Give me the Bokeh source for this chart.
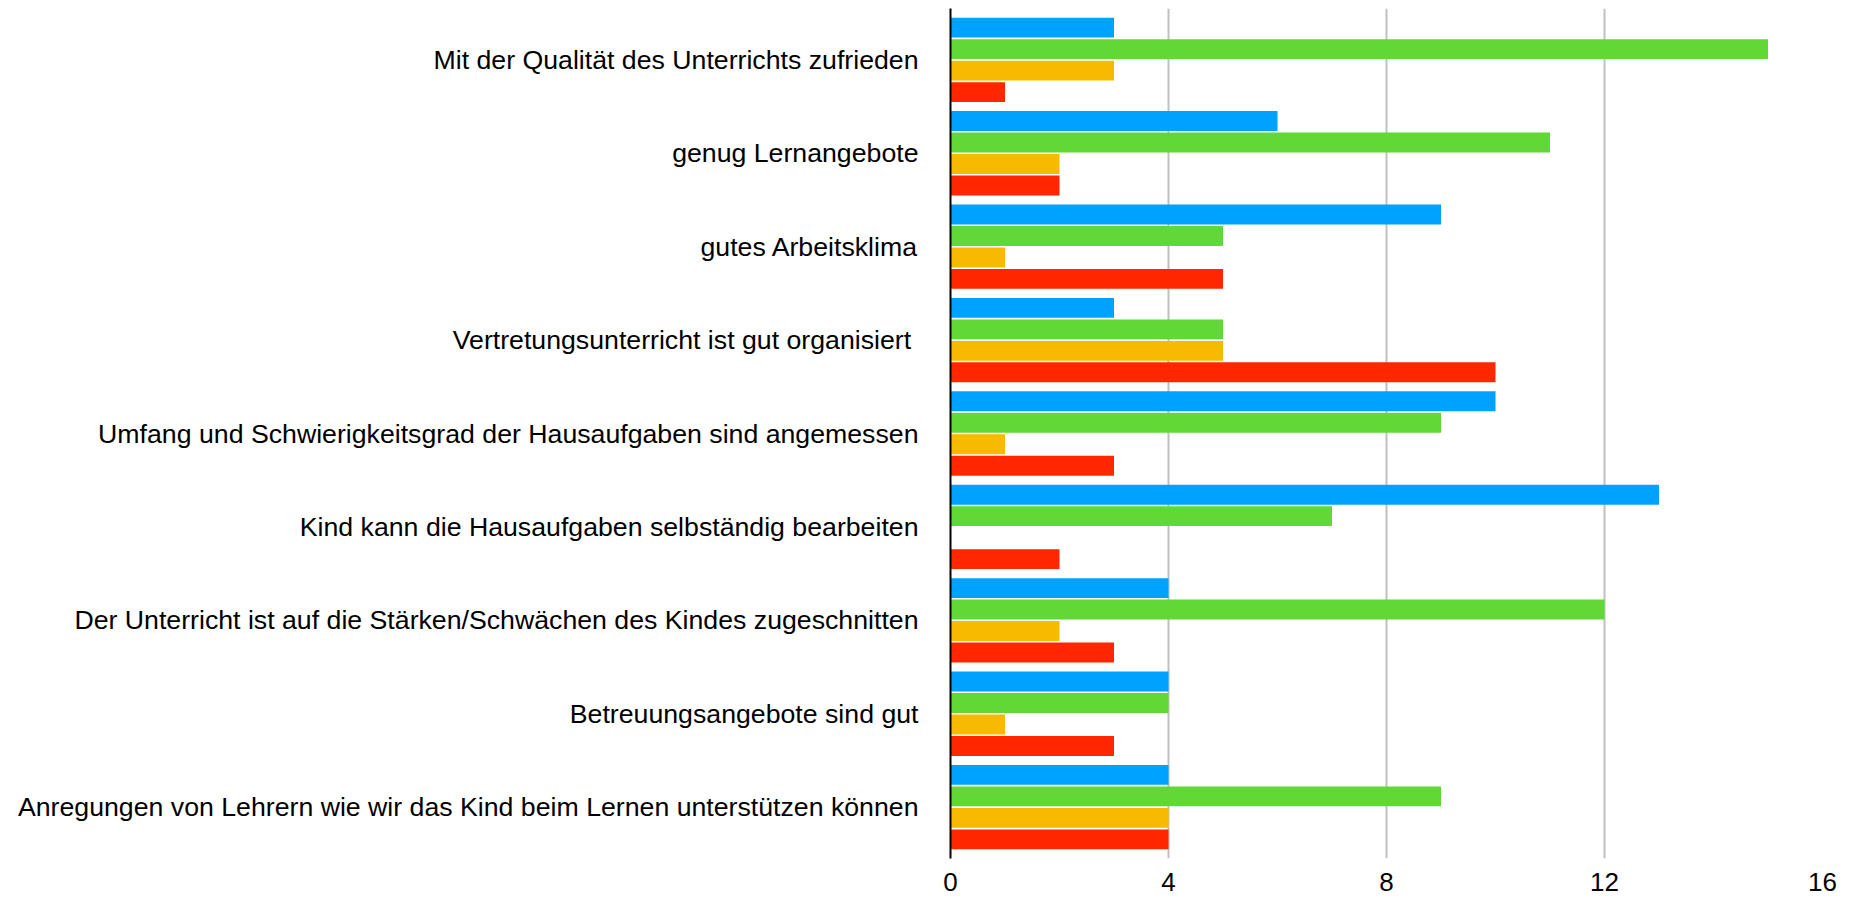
from bokeh.plotting import figure
from bokeh.models import ColumnDataSource, FactorRange, FixedTicker
from bokeh.transform import dodge
from bokeh.embed import file_html
from bokeh.resources import INLINE

categories = [
    "Mit der Qualität des Unterrichts zufrieden",
    "genug Lernangebote",
    "gutes Arbeitsklima",
    "Vertretungsunterricht ist gut  organisiert",
    "Umfang und Schwierigkeitsgrad der Hausaufgaben sind angemessen",
    "Kind kann die Hausaufgaben selbständig bearbeiten",
    "Der Unterricht ist auf die Stärken/Schwächen des Kindes zugeschnitten",
    "Betreuungsangebote sind gut",
    "Anregungen von Lehrern wie wir das Kind beim Lernen unterstützen können",
]
series_blue = [3, 6, 9, 3, 10, 13, 4, 4, 4]
series_green = [15, 11, 5, 5, 9, 7, 12, 4, 9]
series_yellow = [3, 2, 1, 5, 1, 0, 2, 1, 4]
series_red = [1, 2, 5, 10, 3, 2, 3, 3, 4]
x_ticks = [0, 4, 8, 12, 16]

colors = ["#00A2FF", "#61D836", "#F8BA00", "#FF2600"]

source = ColumnDataSource(dict(
    cat=categories,
    blue=series_blue,
    green=series_green,
    yellow=series_yellow,
    red=series_red,
))

FONT = "Liberation Sans"

p = figure(
    y_range=FactorRange(*reversed(categories), range_padding=0.05, range_padding_units="absolute"),
    x_range=(0, 16),
    width=1852, height=898,
    output_backend="svg", toolbar_location=None,
    min_border_left=950, min_border_right=30,
    min_border_top=8, min_border_bottom=40,
)

pitch = 0.23
bh = 0.213
for key, col, off in zip(["blue", "green", "yellow", "red"], colors,
                         [1.5 * pitch, 0.5 * pitch, -0.5 * pitch, -1.5 * pitch]):
    p.hbar(y=dodge("cat", off, range=p.y_range), left=0, right=key,
           height=bh, source=source, color=col, line_color=None)

p.outline_line_color = None
p.ygrid.grid_line_color = None
p.xgrid.grid_line_color = "#c0c0c0"
p.xgrid.grid_line_width = 2
p.xaxis.ticker = FixedTicker(ticks=x_ticks)
p.xaxis.axis_line_color = None
p.xaxis.major_tick_line_color = None
p.xaxis.minor_tick_line_color = None
p.xaxis.major_tick_in = 0
p.xaxis.major_tick_out = 0
p.xaxis.major_label_standoff = 14
p.xaxis.major_label_text_font = FONT
p.xaxis.major_label_text_font_size = "26px"
p.xaxis.major_label_text_color = "#000000"

p.yaxis.axis_line_color = "#000000"
p.yaxis.axis_line_width = 2
p.yaxis.major_tick_line_color = None
p.yaxis.major_tick_in = 0
p.yaxis.major_tick_out = 0
p.yaxis.major_label_standoff = 32
p.yaxis.major_label_text_font = FONT
p.yaxis.major_label_text_font_size = "26.7px"
p.yaxis.major_label_text_color = "#000000"

open("out.html", "w").write(file_html(p, INLINE))
